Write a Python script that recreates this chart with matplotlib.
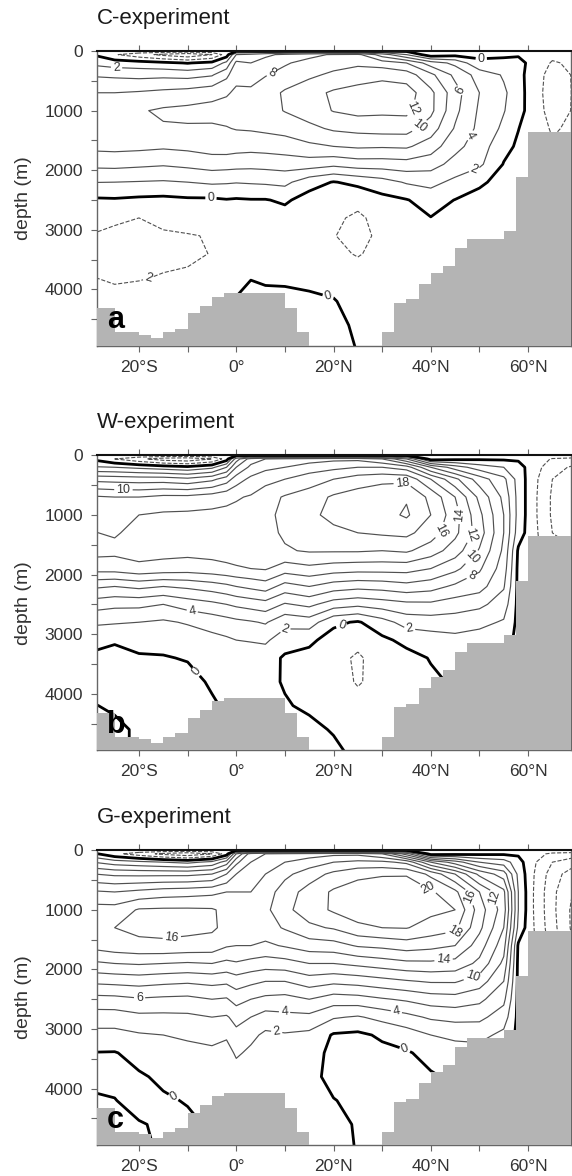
import numpy as np
import matplotlib
matplotlib.use("Agg")
import matplotlib.pyplot as plt
from matplotlib.ticker import FixedLocator

plt.rcParams["font.family"] = ["Liberation Sans", "DejaVu Sans"]

lat_grid = [-30, -25, -20, -15, -10, -5, -2, 0, 3, 6, 10, 15, 20, 25, 30, 35, 40, 45, 50, 55, 58, 61, 65, 70]
depth_grid = [0, 60, 200, 400, 700, 1000, 1300, 1600, 1900, 2200, 2500, 2800, 3100, 3400, 3800, 4200, 4600, 5000]

# one profile (top to bottom) per latitude
psi_c = [
    [-0.3, 0.05, 1.6, 3.8, 6.0, 7.4, 7.6, 6.5, 4.5, 2.05, -0.3, -1.4, -2.05, -2.5, -1.95, -1.2, -0.8, -0.5],
    [-0.5, -1.8, 1.0, 3.6, 6.0, 7.6, 7.7, 6.6, 4.6, 2.0, -0.2, -1.7, -2.4, -2.6, -2.2, -1.5, -0.8, -0.5],
    [-0.5, -3.2, 0.8, 3.4, 6.2, 7.8, 7.7, 6.5, 4.4, 1.9, -0.4, -2.0, -2.4, -2.6, -2.1, -1.4, -0.8, -0.5],
    [-0.5, -4.5, 0.4, 3.5, 6.5, 8.3, 7.8, 6.3, 4.2, 1.8, -0.5, -1.6, -2.2, -2.4, -1.9, -1.2, -0.8, -0.5],
    [-0.5, -5.5, -0.1, 3.3, 6.8, 8.5, 7.8, 6.5, 4.5, 2.0, -0.3, -1.3, -2.1, -2.25, -1.8, -1.0, -0.8, -0.5],
    [-0.5, -4.0, 0.5, 3.8, 7.3, 8.7, 7.7, 6.9, 4.9, 2.3, -0.3, -1.0, -1.9, -1.95, -1.5, -0.8, -0.6, -0.4],
    [-0.3, -1.0, 2.5, 5.5, 7.8, 8.7, 7.9, 7.0, 4.8, 2.2, -0.1, -0.8, -1.5, -1.6, -1.2, -0.5, -0.3, -0.2],
    [-0.3, 4.0, 6.5, 7.5, 8.3, 8.6, 8.1, 6.8, 4.7, 2.1, -0.2, -0.8, -1.4, -1.4, -0.8, 0.2, 0.3, 0.3],
    [-0.3, 4.5, 6.0, 7.2, 8.4, 8.6, 8.2, 6.7, 4.6, 2.2, -0.1, -0.8, -1.2, -1.2, -0.05, 0.4, 0.4, 0.4],
    [-0.3, 5.5, 7.0, 7.9, 9.0, 9.2, 8.4, 6.8, 4.7, 2.3, -0.1, -0.8, -1.1, -1.1, -0.2, 0.4, 0.5, 0.5],
    [-0.3, 6.5, 7.8, 8.6, 10.3, 10.1, 8.7, 7.0, 4.9, 2.5, 0.3, -0.8, -1.2, -1.1, -0.3, 0.5, 0.5, 0.5],
    [-0.3, 7.5, 8.6, 9.6, 11.3, 11.0, 9.5, 7.6, 5.0, 0.8, -0.8, -1.2, -1.5, -1.5, -0.4, 0.3, 0.6, 0.5],
    [-0.3, 8.2, 9.2, 10.4, 12.3, 12.1, 10.3, 8.0, 4.5, -0.1, -1.2, -1.7, -1.95, -1.7, -0.6, 0.1, 0.5, 0.5],
    [-0.3, 8.5, 9.6, 11.0, 12.8, 12.6, 10.6, 8.3, 5.0, 0.5, -1.5, -2.3, -2.4, -2.1, -1.4, -0.6, -0.3, -0.05],
    [-0.3, 5.0, 9.0, 11.5, 13.0, 12.4, 10.8, 8.2, 5.0, 1.2, -0.6, -1.4, -1.7, -1.6, -1.2, -0.8, -0.5, -0.3],
    [-0.3, 2.0, 8.0, 11.0, 13.0, 12.5, 10.8, 8.3, 5.2, 2.2, -0.1, -1.0, -1.3, -1.2, -0.9, -0.6, -0.5, -0.3],
    [-0.3, -1.2, 5.0, 8.5, 10.5, 10.5, 9.0, 7.0, 4.8, 2.6, 0.8, -0.05, -0.7, -0.8, -0.5, -0.4, -0.3, -0.2],
    [-0.3, -0.6, 3.5, 5.5, 6.8, 6.5, 5.8, 4.6, 3.3, 1.5, -0.05, -0.5, -0.6, -0.6, -0.5, -0.4, -0.3, -0.2],
    [-0.3, -0.4, 0.4, 3.2, 4.0, 3.7, 3.5, 3.0, 2.4, 0.2, -0.4, -0.5, -0.5, -0.5, -0.4, -0.3, -0.2, -0.2],
    [-0.3, -0.3, 0.5, 1.8, 2.3, 2.1, 1.6, 0.6, -0.1, -0.4, -0.5, -0.5, -0.5, -0.5, -0.4, -0.3, -0.2, -0.2],
    [-0.2, -0.2, 0.6, 0.8, 1.0, 0.9, 0.05, -0.3, -0.4, -0.4, -0.4, -0.4, -0.4, -0.4, -0.3, -0.3, -0.2, -0.2],
    [-0.3, -0.3, -0.6, -1.2, -1.3, -1.2, -1.0, -0.8, -0.6, -0.5, -0.5, -0.5, -0.5, -0.4, -0.3, -0.3, -0.2, -0.2],
    [-0.3, -1.5, -2.2, -2.6, -2.7, -2.6, -2.2, -1.8, -1.5, -1.2, -1.0, -0.8, -0.6, -0.5, -0.4, -0.3, -0.2, -0.2],
    [-0.3, -1.2, -1.6, -1.8, -1.8, -1.8, -1.6, -1.4, -1.2, -1.0, -0.8, -0.6, -0.5, -0.4, -0.3, -0.3, -0.2, -0.2],
]

psi_w = [
    [-0.5, -0.2, 2.2, 7.4, 12.3, 13.2, 14.1, 14.7, 12.8, 8.4, 5.0, 2.3, 0.8, -0.4, -0.5, 0.1, 0.5, 0.5],
    [-0.5, -2.0, 2.0, 7.2, 12.0, 13.0, 13.8, 14.5, 12.9, 8.0, 4.5, 2.2, 0.1, -0.3, -0.5, -0.2, 0.3, 0.3],
    [-0.5, -3.5, 1.5, 7.0, 12.0, 14.0, 14.6, 14.8, 13.5, 8.5, 4.5, 2.0, 0.6, -0.2, -0.6, -0.4, -0.2, -0.2],
    [-0.5, -5.0, 1.0, 7.0, 12.5, 14.3, 14.8, 14.7, 13.2, 8.0, 4.0, 1.7, 0.5, -0.1, -0.6, -0.4, -0.2, -0.2],
    [-0.5, -5.5, 0.5, 6.5, 12.5, 14.4, 14.8, 14.6, 13.0, 8.4, 4.9, 2.2, 0.8, 0.1, -0.5, -0.4, -0.2, -0.2],
    [-0.5, -4.0, 1.5, 7.5, 13.0, 14.5, 14.8, 14.7, 13.3, 9.0, 5.5, 2.8, 1.4, 0.8, 0.2, -0.2, -0.2, -0.2],
    [-0.3, -1.0, 4.0, 9.0, 13.5, 14.5, 14.8, 14.8, 13.6, 9.5, 6.0, 3.2, 1.7, 1.0, 0.5, 0.2, 0.2, 0.2],
    [-0.3, 5.0, 8.0, 11.0, 13.8, 14.6, 14.9, 14.9, 13.8, 10.0, 6.4, 3.5, 2.0, 1.2, 0.6, 0.3, 0.3, 0.3],
    [-0.3, 9.0, 10.5, 12.5, 14.2, 14.8, 15.0, 15.0, 14.0, 10.5, 6.8, 3.8, 2.1, 1.2, 0.5, 0.3, 0.3, 0.3],
    [-0.3, 10.0, 11.5, 13.3, 15.2, 15.5, 15.4, 15.0, 14.2, 11.0, 7.2, 4.2, 2.3, 1.0, 0.3, 0.2, 0.2, 0.2],
    [-0.3, 10.5, 12.0, 14.0, 16.2, 16.5, 16.3, 15.8, 13.0, 9.2, 5.8, 2.6, 1.0, -0.3, -0.1, 0.1, 0.2, 0.2],
    [-0.3, 11.0, 13.0, 15.0, 17.0, 17.5, 17.0, 16.2, 13.5, 10.0, 6.5, 3.0, 0.4, -0.6, -0.7, -0.2, 0.3, 0.3],
    [-0.3, 11.5, 13.5, 16.0, 18.3, 18.6, 17.5, 16.2, 13.0, 9.0, 5.0, 0.4, -0.8, -1.3, -1.0, -0.5, -0.1, 0.3],
    [-0.3, 11.5, 14.0, 17.0, 18.9, 19.0, 18.0, 16.2, 12.8, 8.6, 4.5, -0.2, -1.4, -2.3, -2.2, -1.2, -0.6, -0.3],
    [-0.3, 10.0, 14.0, 17.5, 19.3, 19.2, 18.3, 16.0, 12.8, 8.8, 5.0, 1.2, -0.4, -1.0, -1.2, -0.8, -0.5, -0.3],
    [-0.3, 6.0, 13.0, 17.5, 19.8, 20.3, 18.5, 16.3, 12.8, 9.3, 5.5, 2.8, 0.5, -0.6, -0.8, -0.6, -0.4, -0.3],
    [-0.3, -1.0, 8.0, 14.0, 17.5, 18.0, 17.0, 15.0, 12.0, 8.8, 5.6, 3.0, 1.0, 0.1, -0.3, -0.3, -0.3, -0.3],
    [-0.3, -0.5, 5.0, 10.5, 14.0, 14.8, 14.5, 13.0, 10.5, 7.6, 5.0, 3.0, 1.4, 0.5, 0.2, -0.1, -0.1, -0.1],
    [-0.3, -0.3, 3.0, 7.0, 9.5, 10.5, 11.0, 9.8, 8.3, 6.8, 4.5, 2.5, 1.2, 0.5, 0.2, 0.1, 0.1, 0.1],
    [-0.3, -0.3, 2.0, 4.5, 5.5, 6.0, 6.0, 5.6, 5.0, 4.2, 3.0, 1.8, 0.8, -0.2, -0.3, -0.3, -0.3, -0.3],
    [-0.3, -0.3, 0.8, 1.2, 1.3, 1.3, 1.0, -0.3, -0.5, -0.5, -0.5, -0.5, -0.5, -0.5, -0.4, -0.3, -0.3, -0.3],
    [-0.3, -0.6, -1.0, -1.3, -1.4, -1.4, -1.3, -1.2, -1.0, -0.9, -0.8, -0.6, -0.5, -0.5, -0.4, -0.3, -0.3, -0.3],
    [-0.3, -2.2, -3.2, -4.0, -4.3, -4.3, -4.0, -3.5, -3.0, -2.5, -2.0, -1.5, -1.0, -0.8, -0.6, -0.4, -0.3, -0.3],
    [-0.3, -2.8, -4.5, -5.2, -5.4, -5.2, -4.8, -4.0, -3.5, -3.0, -2.5, -2.0, -1.5, -1.0, -0.8, -0.5, -0.4, -0.3],
]

psi_g = [
    [-0.5, 0.7, 4.1, 8.1, 12.3, 14.8, 15.8, 14.6, 11.6, 8.4, 5.3, 3.0, 1.4, -0.05, -0.5, 0.3, 0.6, 0.6],
    [-0.5, -1.5, 3.0, 7.6, 12.0, 14.8, 16.0, 15.2, 12.0, 8.6, 5.4, 3.0, 1.4, -0.1, -0.4, 0.05, 0.3, 0.3],
    [-0.5, -3.0, 2.5, 7.5, 12.5, 16.2, 16.5, 15.5, 12.2, 8.8, 5.8, 3.5, 1.8, 0.6, -0.2, -0.5, 0.1, 0.3],
    [-0.5, -4.5, 2.0, 7.5, 13.0, 16.3, 16.6, 15.6, 12.0, 8.5, 5.6, 3.5, 2.0, 1.0, 0.3, -0.2, -0.2, -0.2],
    [-0.5, -5.5, 1.5, 7.5, 13.2, 16.3, 16.5, 15.4, 11.8, 8.3, 5.5, 3.6, 2.3, 1.4, 0.6, 0.1, -0.3, -0.3],
    [-0.5, -4.0, 2.5, 8.0, 13.5, 16.2, 16.3, 15.2, 12.0, 8.6, 6.0, 4.0, 2.6, 1.6, 0.8, 0.3, 0.2, 0.2],
    [-0.3, -1.0, 5.0, 10.0, 14.0, 15.5, 15.5, 14.2, 11.5, 8.4, 5.8, 3.8, 2.3, 1.2, 0.5, 0.3, 0.3, 0.3],
    [-0.3, 6.0, 9.5, 12.0, 14.0, 15.0, 15.0, 14.0, 11.8, 9.0, 6.8, 4.6, 3.5, 2.3, 1.0, 0.5, 0.5, 0.5],
    [-0.3, 11.0, 12.0, 13.0, 14.0, 14.8, 15.0, 14.0, 11.3, 8.5, 6.0, 4.0, 2.5, 1.6, 0.8, 0.5, 0.5, 0.5],
    [-0.3, 12.0, 13.0, 14.0, 15.0, 15.5, 15.2, 13.6, 11.0, 8.0, 5.5, 3.2, 1.6, 0.8, 0.3, 0.3, 0.3, 0.3],
    [-0.3, 12.5, 14.0, 15.5, 17.0, 17.5, 16.2, 14.2, 11.2, 8.0, 5.3, 3.5, 1.8, 0.6, 0.2, 0.3, 0.3, 0.3],
    [-0.3, 13.0, 15.0, 17.0, 18.8, 19.0, 17.6, 15.0, 12.0, 9.0, 6.0, 3.5, 1.5, 0.8, 0.4, 0.4, 0.4, 0.4],
    [-0.3, 13.5, 16.0, 18.5, 20.3, 20.3, 18.2, 15.2, 12.0, 8.5, 5.0, 2.2, -0.2, -0.5, -0.4, 0.05, 0.3, 0.3],
    [-0.3, 13.5, 16.5, 19.5, 21.0, 21.2, 19.5, 16.2, 12.5, 8.8, 5.2, 1.8, -0.4, -0.6, -0.5, -0.3, -0.1, -0.05],
    [-0.3, 12.0, 16.5, 19.8, 21.3, 21.4, 20.0, 16.5, 13.0, 9.3, 5.8, 2.6, 0.3, -0.5, -0.5, -0.4, -0.2, -0.1],
    [-0.3, 7.0, 15.5, 19.8, 21.5, 21.5, 20.1, 17.0, 13.5, 9.8, 6.3, 3.4, 1.0, -0.2, -0.3, -0.3, -0.2, -0.1],
    [-0.3, -1.0, 10.0, 17.5, 20.3, 20.5, 19.2, 16.6, 13.6, 10.2, 7.0, 4.3, 2.0, 0.6, -0.2, -0.3, -0.3, -0.2],
    [-0.3, -0.6, 7.0, 14.0, 18.5, 20.0, 18.5, 16.0, 13.3, 10.2, 7.2, 4.6, 2.5, 1.0, 0.3, -0.1, -0.1, -0.1],
    [-0.3, -0.4, 4.0, 9.5, 14.0, 15.0, 14.5, 13.0, 11.5, 9.0, 6.5, 4.5, 2.6, 1.2, 0.4, 0.1, 0.1, 0.1],
    [-0.3, -0.3, 3.0, 7.0, 10.5, 11.0, 10.0, 8.8, 7.5, 6.0, 4.5, 3.0, 1.5, -0.2, -0.3, -0.3, -0.3, -0.3],
    [-0.3, -0.3, 0.8, 1.5, 2.0, 2.0, 1.5, -0.3, -0.5, -0.5, -0.5, -0.5, -0.5, -0.5, -0.4, -0.3, -0.3, -0.3],
    [-0.3, -1.0, -1.6, -1.8, -1.9, -1.9, -1.8, -1.6, -1.5, -1.2, -1.0, -0.8, -0.6, -0.5, -0.4, -0.3, -0.3, -0.3],
    [-0.3, -2.5, -4.0, -5.0, -5.5, -5.5, -5.3, -4.8, -3.5, -2.5, -2.0, -1.5, -1.0, -0.8, -0.6, -0.5, -0.4, -0.3],
    [-0.3, -3.0, -5.5, -7.5, -8.5, -9.0, -9.0, -8.5, -6.0, -4.0, -3.0, -2.0, -1.5, -1.0, -0.8, -0.6, -0.4, -0.3],
]

# ocean floor: cell edges (deg) and floor depth (m) of each cell, nan = deeper than plot
topo_edges = [-30, -25, -20, -17.5, -15, -12.5, -10, -7.5, -5, -2.5, 10, 12.5, 15,
              30, 32.5, 35, 37.5, 40, 42.5, 45, 47.5, 55, 57.5, 60, 70]
topo_depth = [4317, 4720, 4765, 4821, 4720, 4665, 4401, 4273, 4122, 4066, 4317, 4720, np.nan,
              4720, 4223, 4166, 3909, 3719, 3602, 3305, 3154, 3015, 2109, 1354]

# contour labels: (value, latitude, depth)
labels_c = [(2, -24.6, 250), (8, 7.3, 374), (12, 37.3, 980), (10, 37.7, 1260), (6, 45.6, 680),
            (4, 47.1, 1370), (2, 48.2, 1846), (0, 50.4, 168), (0, -5.2, 2460), (0, 18.9, 4112),
            (-2, -18.0, 3830)]
labels_w = [(10, -23.2, 593), (18, 34.3, 604), (16, 43.7, 1303), (14, 46.7, 996), (12, 49.0, 1360),
            (10, 49.0, 1750), (8, 48.6, 2060), (4, -9.0, 2590), (2, 9.8, 2830), (2, 35.5, 3010),
            (0, 21.2, 2758), (0, -8.2, 3625)]
labels_g = [(16, -13.1, 1578), (6, -19.8, 2600), (4, 9.8, 2881), (2, 8.1, 3189), (0, -13.5, 4224),
            (14, 42.6, 1818), (10, 48.2, 2042), (4, 32.8, 2769), (0, 34.9, 3290), (20, 39.6, 615),
            (16, 49.0, 755), (12, 53.5, 783), (18, 44.8, 1343)]

panels = [
    ("C-experiment", "a", psi_c, labels_c),
    ("W-experiment", "b", psi_w, labels_w),
    ("G-experiment", "c", psi_g, labels_g),
]

LINE = "#505050"
TEXT = "#333333"


def label_fmt(v):
    return f"{abs(v):g}"


fig = plt.figure(figsize=(5.72, 11.76), dpi=100)
bottoms = [0.706, 0.3622, 0.0264]

for (title, letter, psi, labels), bottom in zip(panels, bottoms):
    ax = fig.add_axes([0.169, bottom, 0.829, 0.2506])
    z = np.array(psi).T

    cs_neg = ax.contour(lat_grid, depth_grid, z, levels=np.arange(-10, -1, 2),
                        colors=LINE, linewidths=0.8, linestyles="dashed", zorder=2)
    cs_pos = ax.contour(lat_grid, depth_grid, z, levels=np.arange(2, 26, 2),
                        colors=LINE, linewidths=0.85, linestyles="solid", zorder=2)
    cs_zero = ax.contour(lat_grid, depth_grid, z, levels=[0],
                         colors="black", linewidths=2.0, zorder=2)

    for cs, pick in ((cs_neg, lambda v: v < 0), (cs_pos, lambda v: v > 0), (cs_zero, lambda v: v == 0)):
        spots = [(lat, dep) for value, lat, dep in labels if pick(value)]
        if spots and len(cs.levels) > 0:
            cs.clabel(manual=spots, inline=True, inline_spacing=2,
                      fontsize=9, colors=TEXT, fmt=label_fmt)

    # ocean floor
    lefts = np.array(topo_edges[:-1])
    widths = np.diff(topo_edges)
    floor = np.array(topo_depth)
    ok = ~np.isnan(floor)
    ax.bar(lefts[ok], 5200 - floor[ok], bottom=floor[ok], width=widths[ok], align="edge",
           color="#b4b4b4", edgecolor="none", linewidth=0, zorder=3)

    ax.set_xlim(-28.7, 68.8)
    ax.set_ylim(4945, 0)
    ax.xaxis.set_major_locator(FixedLocator([-20, 0, 20, 40, 60]))
    ax.xaxis.set_minor_locator(FixedLocator([-10, 10, 30, 50]))
    ax.set_xticklabels(["20°S", "0°", "20°N", "40°N", "60°N"])
    ax.yaxis.set_major_locator(FixedLocator([0, 1000, 2000, 3000, 4000]))
    ax.yaxis.set_minor_locator(FixedLocator([500, 1500, 2500, 3500, 4500]))
    ax.tick_params(which="both", direction="out", length=4, width=0.8, color="#666666",
                   top=True, right=True, labelsize=12.5, labelcolor=TEXT, pad=6)
    ax.set_ylabel("depth (m)", fontsize=14, color=TEXT, labelpad=9)

    for side in ("left", "right", "bottom"):
        ax.spines[side].set_color("#666666")
        ax.spines[side].set_linewidth(1.0)
    ax.spines["top"].set_color("#111111")
    ax.spines["top"].set_linewidth(1.5)

    ax.text(0.0, 1.112, title, transform=ax.transAxes, ha="left", va="center",
            fontsize=16, color="#1a1a1a")
    ax.text(0.022, 0.035, letter, transform=ax.transAxes, ha="left", va="bottom",
            fontsize=22, fontweight="bold", color="black", zorder=5)

fig.savefig("out.png", dpi=100)
